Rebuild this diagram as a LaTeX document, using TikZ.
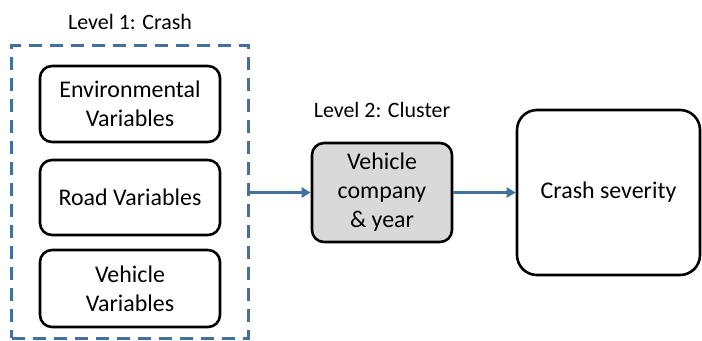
\documentclass[tikz,border=0pt]{standalone}
\usepackage{fontspec}
\setmainfont{Carlito}
\usetikzlibrary{arrows.meta}

\begin{document}
\begin{tikzpicture}[x=1bp,y=-1bp,font=\fontsize{24}{29}\selectfont,
  varbox/.style={draw,line width=2.6bp,rounded corners=12bp,align=center,minimum width=180bp,inner sep=0pt},
  lvllabel/.style={font=\fontsize{22}{26}\selectfont},
  flow/.style={line width=2.6bp,-{Triangle[length=9bp,width=10bp]}}]
\definecolor{lvlblue}{HTML}{41719C}
\tikzset{flow/.append style={draw=lvlblue}}
\useasboundingbox (0,0) rectangle (702,340);
% level 1: the crash variables
\node[draw=lvlblue,line width=3bp,dash pattern=on 13bp off 8bp,minimum width=236bp,minimum height=293bp,inner sep=0pt] (lvlone) at (130,191.5) {};
\node[lvllabel] (lvlonelbl) at (130,22) {Level 1: Crash};
\node[varbox,minimum height=76bp] (env) at (130,104) {Environmental\\Variables};
\node[varbox,minimum height=75bp] (road) at (130,197.5) {Road Variables};
\node[varbox,minimum height=77bp] (veh) at (130,288.5) {Vehicle\\Variables};
% level 2: the cluster
\node[lvllabel] (lvltwolbl) at (382,110) {Level 2: Cluster};
\node[varbox,fill=gray!30,minimum width=140bp,minimum height=99bp] (cluster) at (382,192.5) {Vehicle\\company\\\& year};
% outcome
\node[varbox,rounded corners=20bp,minimum width=183bp,minimum height=165bp] (sev) at (608.5,192.5) {Crash severity};
\draw[flow] (lvlone.east |- cluster.west) -- (cluster.west);
\draw[flow] (cluster.east) -- (sev.west);
\end{tikzpicture}
\end{document}
